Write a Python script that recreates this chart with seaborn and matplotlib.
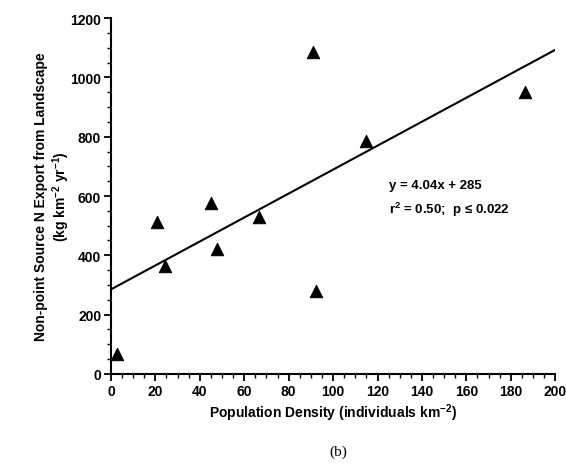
import numpy as np
import pandas as pd
import matplotlib
matplotlib.use('Agg')
import matplotlib.pyplot as plt
import seaborn as sns
from matplotlib.ticker import MultipleLocator

# Data
pop_density = [2.7, 20.7, 24.3, 45.0, 47.7, 66.7, 91.0, 92.3, 115.0, 186.5]
n_export = [67, 512, 364, 578, 420, 530, 1085, 278, 787, 952]
slope, intercept = 4.04, 285
fit_x = [0, 200]

df = pd.DataFrame({'density': pop_density, 'export': n_export})
fit = pd.DataFrame({'x': fit_x})
fit['y'] = slope * fit['x'] + intercept

sns.set_style('ticks')
plt.rcParams['font.family'] = ['Liberation Sans', 'DejaVu Sans']
plt.rcParams['font.weight'] = 'bold'
plt.rcParams['mathtext.fontset'] = 'custom'
plt.rcParams['mathtext.rm'] = 'Liberation Sans:bold'
plt.rcParams['mathtext.bf'] = 'Liberation Sans:bold'
plt.rcParams['mathtext.default'] = 'bf'
for key in ['text.color', 'axes.labelcolor', 'xtick.color', 'ytick.color', 'axes.edgecolor']:
    plt.rcParams[key] = 'black'

fig = plt.figure(figsize=(5.66, 4.77), dpi=100)
ax = fig.add_axes([0.196, 0.214, 0.785, 0.746])

sns.lineplot(data=fit, x='x', y='y', color='black', linewidth=1.5, ax=ax)
sns.scatterplot(data=df, x='density', y='export', marker='^', s=80,
                color='black', edgecolor='black', ax=ax)

ax.set_xlim(0, 200)
ax.set_ylim(0, 1200)
ax.xaxis.set_major_locator(MultipleLocator(20))
ax.xaxis.set_minor_locator(MultipleLocator(5))
ax.yaxis.set_major_locator(MultipleLocator(200))
ax.yaxis.set_minor_locator(MultipleLocator(50))
ax.tick_params(which='major', length=5, width=1.3, labelsize=10, direction='out', pad=2)
ax.tick_params(which='minor', length=3, width=1.0, direction='out')
for lab in ax.get_xticklabels() + ax.get_yticklabels():
    lab.set_fontweight('bold')

for side in ['top', 'right']:
    ax.spines[side].set_visible(False)
for side in ['left', 'bottom']:
    ax.spines[side].set_linewidth(1.5)

ax.set_xlabel('Population Density (individuals km$^{-2}$)', fontsize=10,
              fontweight='bold', labelpad=3)
ax.set_ylabel('Non-point Source N Export from Landscape\n(kg km$^{-2}$ yr$^{-1}$)',
              fontsize=10, fontweight='bold', labelpad=-1.5)

ax.text(125, 637, 'y = 4.04x + 285', fontsize=9.5, fontweight='bold', va='center')
ax.text(125, 556, 'r$^{2}$ = 0.50;  p \u2264 0.022', fontsize=9.5,
        fontweight='bold', va='center')

fig.text(0.598, 0.052, '(b)', fontsize=11, family='Liberation Serif',
         fontweight='normal', ha='center', va='center')

fig.savefig('out.png', dpi=100)
